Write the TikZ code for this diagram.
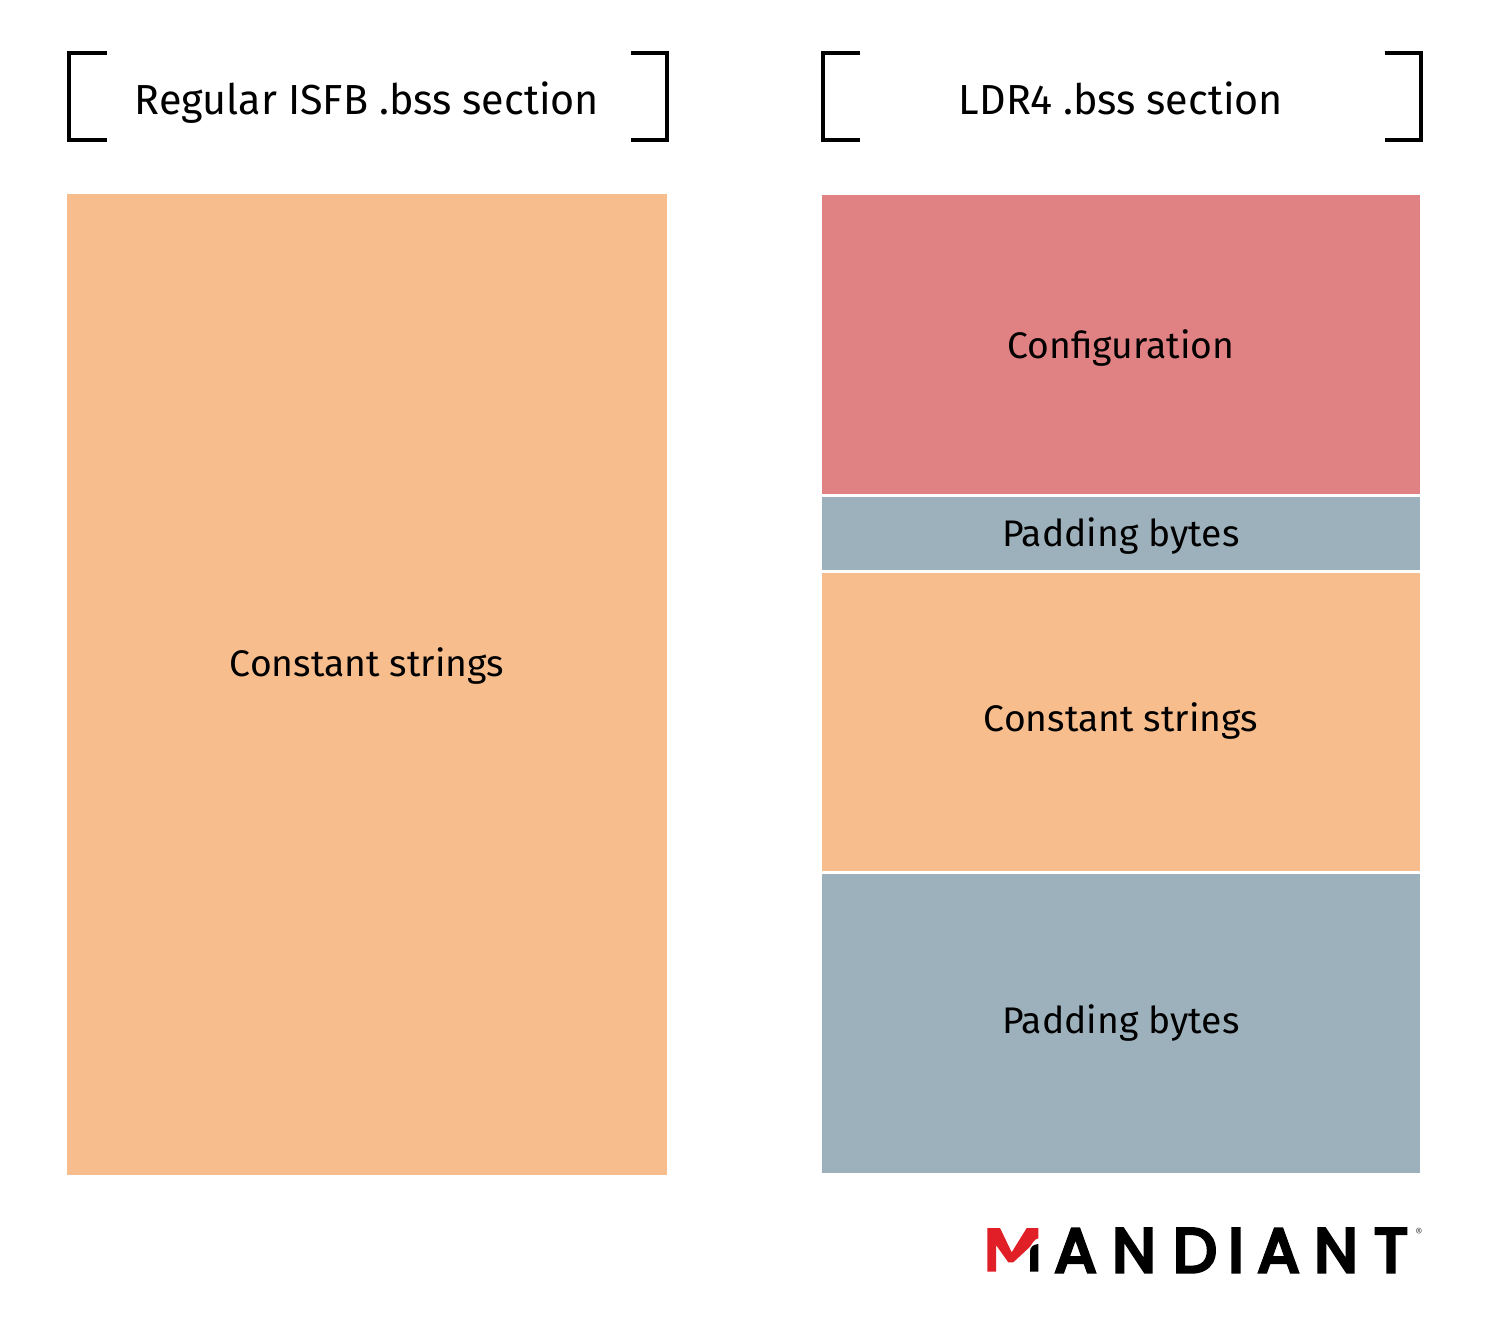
\documentclass[tikz,border=0pt]{standalone}
\usepackage{fontspec}
\setmainfont[FakeStretch=1.008]{Fira Sans}
\newfontfamily\headfont[FakeStretch=0.983]{Fira Sans}
\newfontfamily\logofont[FakeBold=5.5]{Poppins}
\definecolor{orangefill}{HTML}{F8BD8D}
\definecolor{redfill}{HTML}{E08284}
\definecolor{bluefill}{HTML}{9DB1BC}
\definecolor{logored}{HTML}{E01F26}
\tikzset{
  block/.style={inner sep=0pt,outer sep=0pt,anchor=north west},
  blocklabel/.style={inner sep=0pt,anchor=base,font=\fontsize{37}{40}\selectfont,text=black},
  heading/.style={inner sep=0pt,anchor=base,font=\headfont\fontsize{42}{46}\selectfont,text=black},
  bracketline/.style={draw=black,line width=4pt,line cap=butt,line join=miter},
  logoletter/.style={inner sep=0pt,outer sep=0pt,anchor=base,font=\logofont\fontsize{62}{66}\selectfont,text=black}
}
\begin{document}
\begin{tikzpicture}[x=1pt,y=-1pt]
\useasboundingbox (0,0) rectangle (1488,1326);
% left column
\node[block,fill=orangefill,minimum width=600pt,minimum height=981pt] (constL) at (67,194) {};
\node[blocklabel] (constLt) at (367,676) {Constant strings};
% right column
\node[block,fill=redfill,minimum width=598pt,minimum height=299pt] (config) at (822,195) {};
\node[block,fill=bluefill,minimum width=598pt,minimum height=73pt] (pad1) at (822,497) {};
\node[block,fill=orangefill,minimum width=598pt,minimum height=298pt] (constR) at (822,573) {};
\node[block,fill=bluefill,minimum width=598pt,minimum height=299pt] (pad2) at (822,874) {};
\node[blocklabel] (configt) at (1121,358) {Configuration};
\node[blocklabel] (pad1t) at (1120.8,546) {Padding bytes};
\node[blocklabel] (constRt) at (1121,731) {Constant strings};
\node[blocklabel] (pad2t) at (1120.8,1033) {Padding bytes};
% headings
\node[heading] (headL) at (367,114.5) {Regular ISFB .bss section};
\node[heading] (headR) at (1121,114.5) {LDR4 .bss section};
% brackets
\draw[bracketline] (106.7,52.5) -- (69,52.5) -- (69,140.3) -- (106.7,140.3);
\draw[bracketline] (630.7,52.5) -- (667,52.5) -- (667,140.3) -- (630.7,140.3);
\draw[bracketline] (860,52.5) -- (823,52.5) -- (823,140.3) -- (860,140.3);
\draw[bracketline] (1384.5,52.5) -- (1421,52.5) -- (1421,140.3) -- (1384.5,140.3);
% logo
\fill[logored] (987.3,1228) -- (1000,1228) -- (1011.7,1252.3) -- (1026.7,1228) -- (1038.3,1228) -- (1038.3,1238.3)
  .. controls (1034,1239) and (1032,1244) .. (1030,1246.7) -- (1013.3,1262.3) -- (1008.3,1262.3) -- (996,1245) -- (996,1271.7) -- (987.3,1271.7) -- cycle;
\fill[black] (1030,1271.7) -- (1030,1251.7) .. controls (1030,1247) and (1033,1244.5) .. (1038.3,1244) -- (1038.3,1271.7) -- cycle;
\node[logoletter] (lA) at (1075.5,1272) {A};
\node[logoletter] (lN) at (1134,1272) {N};
\node[logoletter] (lD) at (1195,1272) {D};
\node[logoletter] (lI) at (1236,1272) {I};
\node[logoletter] (lA2) at (1278.5,1272) {A};
\node[logoletter] (lN2) at (1336,1272) {N};
\node[logoletter] (lT) at (1391,1272) {T};
\node[inner sep=0pt,font=\fontsize{11}{12}\selectfont,text=black!70] (reg) at (1419,1232) {®};
\end{tikzpicture}
\end{document}
